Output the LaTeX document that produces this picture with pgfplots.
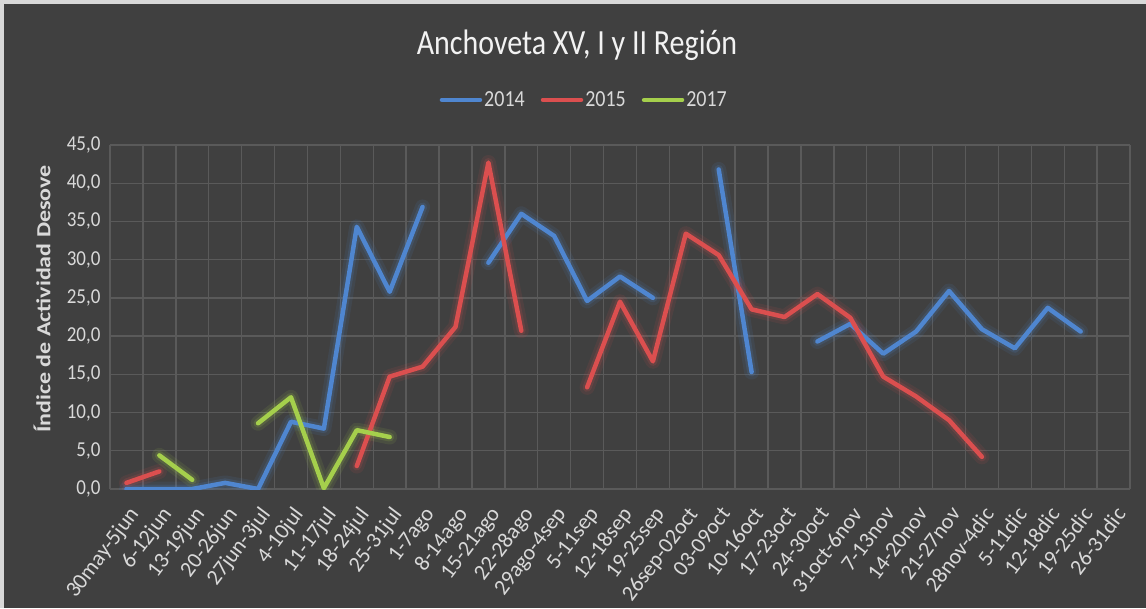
\documentclass[border=0pt]{standalone}
\usepackage{pgfplots}
\pgfplotsset{compat=1.18}
\usepackage{pgfplotstable}
\usetikzlibrary{backgrounds}
\usepackage{fontspec}
\setmainfont{Carlito}
\definecolor{bg}{HTML}{404040}
\definecolor{gridc}{HTML}{5A5A5A}
\definecolor{txt}{HTML}{D9D9D9}
\definecolor{c14}{HTML}{4F86D0}
\definecolor{c15}{HTML}{DB4F4F}
\definecolor{c17}{HTML}{A5CF4C}

% x = category index (0 = 30may-5jun ... 30 = 26-31dic), nan = no value
\pgfplotstableread{
x y
0 0.0
1 0.0
2 0.0
3 0.8
4 0.0
5 8.8
6 7.9
7 34.3
8 25.8
9 36.9
10 nan
11 29.6
12 36.0
13 33.1
14 24.6
15 27.8
16 25.0
17 nan
18 41.8
19 15.3
20 nan
21 19.3
22 21.6
23 17.7
24 20.6
25 25.9
26 20.9
27 18.4
28 23.7
29 20.6
}\tabA
\pgfplotstableread{
x y
0 0.8
1 2.3
2 nan
7 3.0
8 14.7
9 16.0
10 21.2
11 42.7
12 20.7
13 nan
14 13.3
15 24.5
16 16.7
17 33.4
18 30.6
19 23.5
20 22.5
21 25.5
22 22.4
23 14.7
24 12.1
25 9.0
26 4.2
}\tabB
\pgfplotstableread{
x y
1 4.4
2 1.2
3 nan
4 8.6
5 12.0
6 0.1
7 7.7
8 6.8
}\tabC

\begin{document}
\begin{tikzpicture}
\begin{axis}[
  name=ax,
  width=1020pt, height=344pt, scale only axis,
  xmin=-0.5, xmax=30.5, ymin=0, ymax=45,
  ytick={0,5,...,45},
  xtick={0,...,30},
  minor xtick={-0.5,0.5,...,30.5},
  xticklabels={30may-5jun,6-12jun,13-19jun,20-26jun,27jun-3jul,4-10jul,11-17jul,18-24jul,25-31jul,1-7ago,8-14ago,15-21ago,22-28ago,29ago-4sep,5-11sep,12-18sep,19-25sep,26sep-02oct,03-09oct,10-16oct,17-23oct,24-30oct,31oct-6nov,7-13nov,14-20nov,21-27nov,28nov-4dic,5-11dic,12-18dic,19-25dic,26-31dic},
  x tick label style={rotate=53, anchor=north east, xshift=-9pt, yshift=-7pt, font=\fontsize{22}{24}\selectfont, text=txt},
  y tick label style={font=\fontsize{19}{22}\selectfont, text=txt, xshift=-6pt},
  /pgf/number format/assume math mode=true,
  yticklabel={\scalebox{1}[1.12]{\pgfmathprintnumber[fixed, fixed zerofill, precision=1, use comma]{\tick}}},
  major tick length=0pt, minor tick length=0pt,
  ymajorgrids, xminorgrids,
  grid style={gridc, line width=1.4pt},
  minor grid style={gridc, line width=1.4pt},
  axis line style={draw=none},
  unbounded coords=jump,
  legend columns=3,
  legend style={at={(0.465,1.131)}, anchor=center, fill=none, draw=none,
    text=txt, font=\fontsize{20}{24}\selectfont,
    /tikz/every even column/.append style={column sep=14pt}},
  legend image code/.code={\draw[#1, line width=4.5pt] (0pt,0pt) -- (38pt,0pt);},
]
\addplot[c14, line width=15pt, opacity=0.10, line join=round, line cap=round, forget plot] table {\tabA};
\addplot[c14, line width=9pt, opacity=0.16, line join=round, line cap=round, forget plot] table {\tabA};
\addplot[c15, line width=15pt, opacity=0.10, line join=round, line cap=round, forget plot] table {\tabB};
\addplot[c15, line width=9pt, opacity=0.16, line join=round, line cap=round, forget plot] table {\tabB};
\addplot[c17, line width=15pt, opacity=0.10, line join=round, line cap=round, forget plot] table {\tabC};
\addplot[c17, line width=9pt, opacity=0.16, line join=round, line cap=round, forget plot] table {\tabC};
\addplot[c14, line width=4.5pt, line join=round, line cap=round] table {\tabA};
\addlegendentry{\scalebox{1}[1.15]{2014}}
\addplot[c15, line width=4.5pt, line join=round, line cap=round] table {\tabB};
\addlegendentry{\scalebox{1}[1.15]{2015}}
\addplot[c17, line width=4.5pt, line join=round, line cap=round] table {\tabC};
\addlegendentry{\scalebox{1}[1.15]{2017}}
\end{axis}
% page frame: axis box sits at x 110..1130, y 145..489 (px from top) in a 1146x608 page
\coordinate (P0) at ([shift={(-110pt,-119pt)}]ax.south west);
\coordinate (P1) at ([shift={(16pt,145pt)}]ax.north east);
\begin{scope}[on background layer]
\fill[bg] (P0) rectangle (P1);
\fill[txt] ([yshift=-4pt]P0 |- P1) rectangle (P1);
\fill[txt] (P0) rectangle ([xshift=4pt]P0 |- P1);
\end{scope}
\node[text=white!95!black, font=\fontsize{30}{34}\selectfont] at ([shift={(577pt,563pt)}]P0) {\scalebox{1}[1.18]{Anchoveta XV, I y II Región}};
\node[text=txt, rotate=90, font=\fontsize{20}{24}\selectfont\bfseries] at ([shift={(42pt,309pt)}]P0) {\scalebox{1.2}[1]{Índice de Actividad Desove}};
\pgfresetboundingbox
\path[use as bounding box] (P0) rectangle (P1);
\end{tikzpicture}
\end{document}
